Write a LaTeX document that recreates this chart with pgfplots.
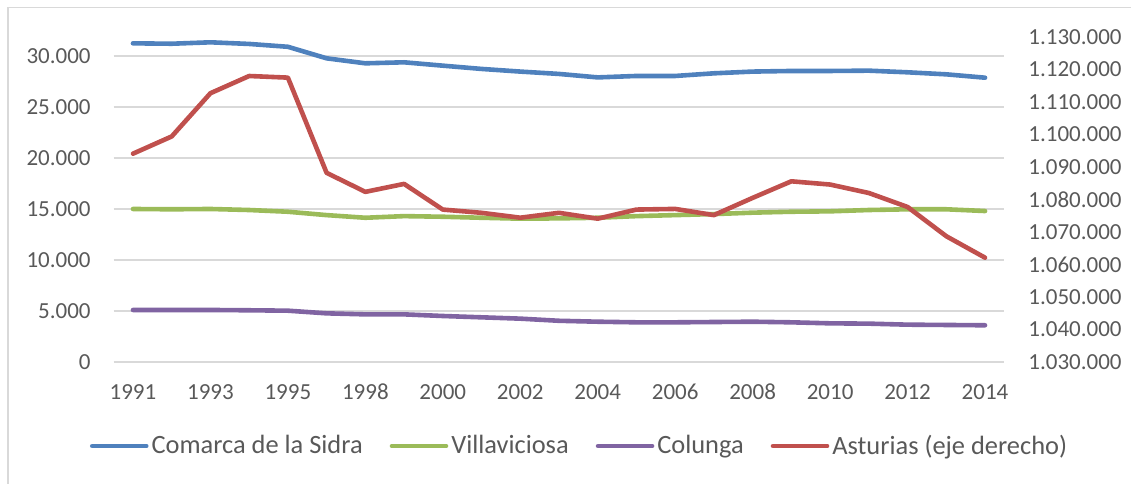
\documentclass[border=0pt]{standalone}
\usepackage{pgfplots}
\pgfplotsset{compat=1.18}
\usepackage{pgfplotstable}
\usepackage{fontspec}
\setmainfont{Carlito}
\definecolor{cBlue}{HTML}{4F81BD}
\definecolor{cRed}{HTML}{C0504D}
\definecolor{cGreen}{HTML}{9BBB59}
\definecolor{cPurple}{HTML}{8064A2}
\definecolor{cGrid}{HTML}{D9D9D9}
\definecolor{cText}{HTML}{595959}
\pgfplotstableread{
idx comarca villa colunga asturias
0 31240 15000 5100 1094100
1 31200 14970 5100 1099400
2 31340 15000 5100 1112700
3 31180 14900 5070 1118000
4 30900 14730 5030 1117500
5 29770 14400 4770 1088200
6 29280 14140 4670 1082350
7 29380 14300 4670 1084800
8 29050 14240 4510 1076900
9 28730 14140 4380 1075900
10 28470 14050 4250 1074400
11 28240 14080 4040 1075900
12 27900 14140 3950 1074100
13 28040 14300 3890 1076900
14 28040 14400 3890 1077100
15 28300 14500 3920 1075200
16 28470 14640 3950 1080500
17 28530 14730 3890 1085600
18 28530 14770 3790 1084600
19 28560 14900 3760 1082000
20 28400 14970 3660 1077700
21 28200 14970 3630 1068700
22 27870 14800 3600 1062100
}\datatable
\pgfplotsset{
  common/.style={
    at={(56.8pt,60.5pt)}, anchor=south west,
    scale only axis, width=445.4pt, height=162.5pt,
    xmin=-0.5, xmax=22.5,
    clip=false,
    /pgf/number format/assume math mode=true,
    /pgf/number format/.cd, fixed, 1000 sep={.}, /pgfplots/.cd,
    scaled y ticks=false,
    tick label style={font=\fontsize{11.5}{13.8}\selectfont, text=cText},
    major tick length=0pt,
  },
  ser/.style={line width=2.3pt, line cap=round, line join=round, mark=none},
}
\begin{document}
\begin{tikzpicture}
\useasboundingbox (0,0) rectangle (565.5pt,241.5pt);
\draw[cGrid, line width=0.75pt] (4pt,237.75pt) rectangle (580pt,-10pt);
\begin{axis}[common,
  ymin=0, ymax=31860,
  ytick={0,5000,10000,15000,20000,25000,30000},
  ymajorgrids, grid style={cGrid, line width=0.75pt},
  axis line style={draw=none},
  xtick={0,2,...,22},
  xticklabels={1991,1993,1995,1998,2000,2002,2004,2006,2008,2010,2012,2014},
  xticklabel style={inner sep=0pt, anchor=base, yshift=-18.75pt},
  yticklabel style={inner sep=0pt, anchor=east, xshift=-11.3pt},
]
\addplot[ser, cBlue] table[x=idx, y=comarca] {\datatable};
\addplot[ser, cGreen] table[x=idx, y=villa] {\datatable};
\addplot[ser, cPurple] table[x=idx, y=colunga] {\datatable};
\end{axis}
\begin{axis}[common,
  ymin=1030000, ymax=1130000,
  ytick={1030000,1040000,...,1130000},
  hide x axis,
  axis y line*=right,
  y axis line style={draw=none},
  yticklabel style={inner sep=0pt, anchor=west, xshift=11.8pt},
  legend columns=4,
  legend style={at={(0.5236,-0.2585)}, anchor=center, draw=none, fill=none,
    font=\fontsize{13.2}{15}\selectfont, text=cText,
    /tikz/every even column/.append style={column sep=12pt},
    nodes={inner sep=1.5pt}},
  legend image code/.code={\draw[#1] (0pt,0pt) -- (27pt,0pt);},
]
\addlegendimage{ser, cBlue}
\addlegendentry{Comarca de la Sidra}
\addlegendimage{ser, cGreen}
\addlegendentry{Villaviciosa}
\addlegendimage{ser, cPurple}
\addlegendentry{Colunga}
\addplot[ser, cRed] table[x=idx, y=asturias] {\datatable};
\addlegendentry{Asturias (eje derecho)}
\end{axis}
\end{tikzpicture}
\end{document}
